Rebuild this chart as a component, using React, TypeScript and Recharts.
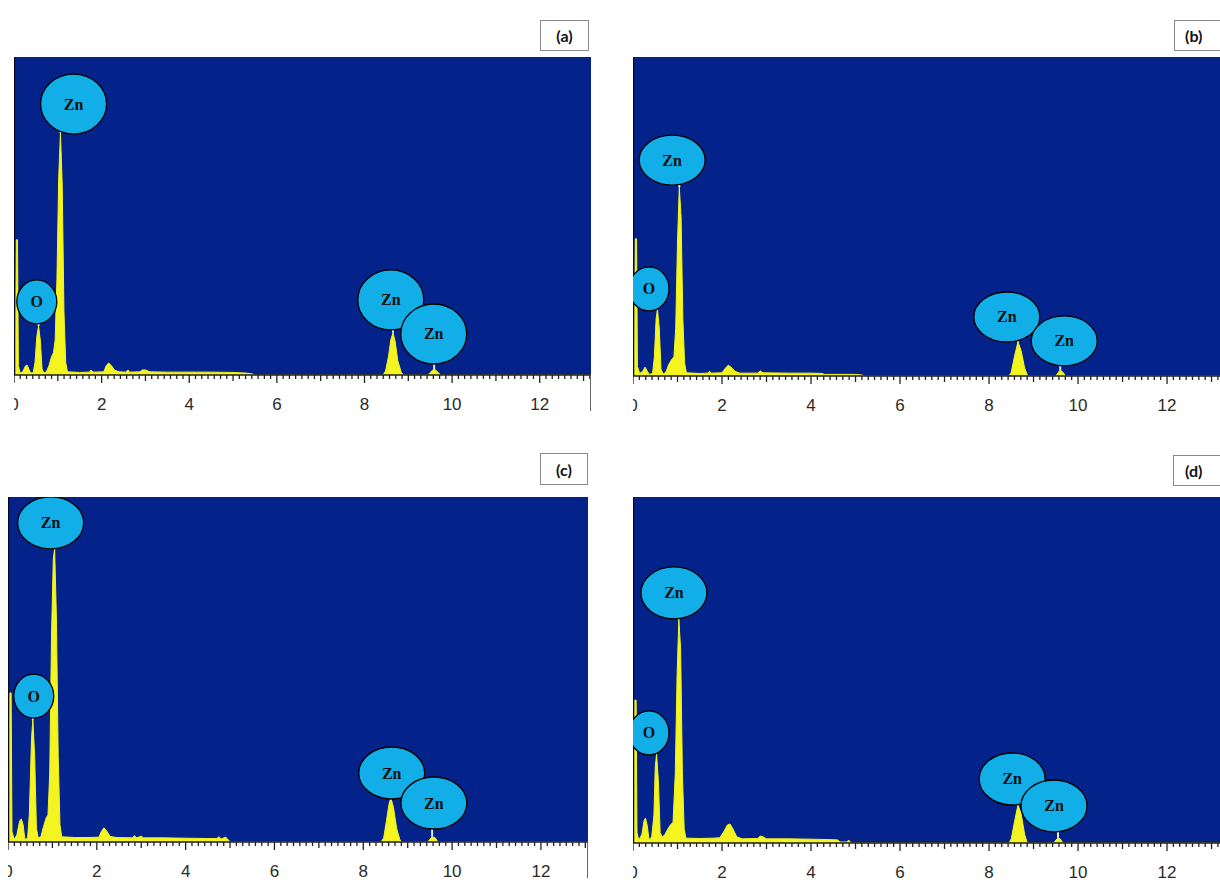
import {
  AreaChart,
  Area,
  XAxis,
  YAxis,
  CartesianGrid,
  ReferenceLine,
  ReferenceDot,
} from "recharts";

// EDS spectra, energy (keV) vs counts (scaled so each panel's full height = 1000)
const SPEC_A: [number, number][] = [
  [0, 0], [0.03, 0], [0.05, 425], [0.08, 425], [0.1, 30], [0.14, 6], [0.2, 10], [0.26, 28], [0.3, 31],
  [0.34, 18], [0.38, 6], [0.44, 8], [0.48, 40], [0.52, 120], [0.56, 154], [0.6, 110], [0.64, 20],
  [0.68, 6], [0.74, 10], [0.8, 30], [0.85, 55], [0.9, 70], [0.94, 110], [0.98, 300], [1.02, 620],
  [1.06, 761], [1.1, 600], [1.14, 200], [1.18, 40], [1.22, 10], [1.5, 8], [1.72, 9], [1.76, 16],
  [1.8, 9], [2.05, 10], [2.1, 28], [2.16, 38], [2.22, 30], [2.3, 15], [2.4, 10], [2.55, 9], [2.6, 16],
  [2.64, 9], [2.88, 10], [2.92, 16], [3.0, 16], [3.1, 10], [3.5, 9], [4.0, 9], [4.5, 9], [5.0, 8],
  [5.3, 6], [5.45, 3], [5.5, 0], [8.42, 0], [8.48, 12], [8.55, 60], [8.6, 110], [8.65, 133],
  [8.7, 105], [8.76, 45], [8.84, 8], [8.9, 0], [9.45, 0], [9.5, 8], [9.56, 16], [9.62, 16],
  [9.68, 8], [9.74, 0], [13.3, 0],
];
const SPEC_B: [number, number][] = [
  [0, 0], [0.03, 0], [0.05, 430], [0.08, 430], [0.1, 30], [0.15, 8], [0.22, 15], [0.27, 28],
  [0.32, 15], [0.37, 5], [0.44, 8], [0.48, 60], [0.52, 180], [0.55, 210], [0.59, 150], [0.63, 20],
  [0.68, 6], [0.74, 12], [0.8, 35], [0.86, 50], [0.92, 60], [0.96, 150], [1.0, 420], [1.04, 592],
  [1.08, 500], [1.12, 180], [1.16, 40], [1.2, 10], [1.5, 8], [1.68, 9], [1.72, 15], [1.76, 9],
  [2.0, 10], [2.08, 25], [2.14, 34], [2.2, 28], [2.3, 14], [2.4, 9], [2.8, 9], [2.86, 16],
  [2.92, 10], [3.5, 9], [4.0, 9], [4.25, 8], [4.3, 5], [5.0, 5], [5.15, 3], [5.2, 0], [8.45, 0],
  [8.5, 12], [8.57, 60], [8.65, 107], [8.72, 80], [8.8, 25], [8.87, 0], [9.5, 0], [9.55, 10],
  [9.6, 19], [9.66, 12], [9.72, 0], [13.3, 0],
];
const SPEC_C: [number, number][] = [
  [0, 0], [0.02, 0], [0.04, 432], [0.07, 432], [0.09, 30], [0.14, 8], [0.2, 20], [0.26, 60],
  [0.3, 67], [0.34, 50], [0.38, 8], [0.44, 10], [0.48, 80], [0.53, 300], [0.56, 354], [0.6, 250],
  [0.64, 40], [0.68, 12], [0.74, 15], [0.8, 45], [0.86, 70], [0.9, 78], [0.94, 200], [0.98, 600],
  [1.02, 820], [1.05, 849], [1.09, 650], [1.13, 250], [1.17, 50], [1.21, 15], [1.5, 13], [1.8, 13],
  [2.05, 14], [2.1, 30], [2.16, 41], [2.22, 32], [2.3, 16], [2.45, 13], [2.8, 12], [2.85, 18],
  [2.9, 12], [3.0, 17], [3.05, 12], [3.5, 12], [4.0, 11], [4.5, 10], [4.7, 10], [4.75, 15],
  [4.8, 9], [4.9, 14], [4.95, 8], [5.0, 0], [8.4, 0], [8.46, 12], [8.52, 60], [8.58, 110],
  [8.62, 128], [8.68, 100], [8.75, 40], [8.82, 8], [8.86, 0], [9.45, 0], [9.5, 8], [9.55, 15],
  [9.62, 12], [9.68, 0], [13.3, 0],
];
const SPEC_D: [number, number][] = [
  [0, 0], [0.02, 0], [0.04, 413], [0.07, 413], [0.09, 30], [0.13, 8], [0.2, 25], [0.25, 65],
  [0.28, 72], [0.32, 50], [0.36, 10], [0.42, 17], [0.47, 80], [0.5, 220], [0.53, 257], [0.57, 180],
  [0.61, 30], [0.66, 17], [0.72, 25], [0.78, 40], [0.84, 52], [0.9, 60], [0.95, 200], [0.99, 480],
  [1.03, 647], [1.07, 560], [1.11, 200], [1.15, 40], [1.19, 14], [1.5, 13], [1.8, 14], [1.95, 15],
  [2.05, 35], [2.12, 52], [2.18, 55], [2.25, 40], [2.33, 18], [2.45, 12], [2.8, 13], [2.86, 20],
  [2.92, 18], [3.0, 12], [3.5, 12], [4.0, 11], [4.4, 10], [4.6, 9], [4.65, 3], [4.8, 3], [4.85, 8],
  [4.9, 0], [8.45, 0], [8.5, 12], [8.57, 60], [8.65, 110], [8.72, 85], [8.8, 25], [8.86, 0],
  [9.45, 0], [9.5, 8], [9.55, 15], [9.6, 12], [9.66, 0], [13.3, 0],
];

// peak labels: element, bubble centre (e, c), peak it points at (pe, pc)
type Tag = { el: string; e: number; c: number; pe: number; pc: number };
const LABELS_A: Tag[] = [
  { el: "Zn", e: 1.36, c: 852, pe: 1.06, pc: 761 },
  { el: "O", e: 0.52, c: 230, pe: 0.56, pc: 154 },
  { el: "Zn", e: 8.6, c: 236, pe: 8.65, pc: 133 },
  { el: "Zn", e: 9.58, c: 129, pe: 9.59, pc: 16 },
];
const LABELS_B: Tag[] = [
  { el: "Zn", e: 0.88, c: 677, pe: 1.04, pc: 592 },
  { el: "O", e: 0.36, c: 273, pe: 0.55, pc: 210 },
  { el: "Zn", e: 8.4, c: 185, pe: 8.65, pc: 107 },
  { el: "Zn", e: 9.69, c: 110, pe: 9.6, pc: 19 },
];
const LABELS_C: Tag[] = [
  { el: "Zn", e: 0.96, c: 925, pe: 1.05, pc: 849 },
  { el: "O", e: 0.58, c: 423, pe: 0.56, pc: 354 },
  { el: "Zn", e: 8.64, c: 200, pe: 8.62, pc: 128 },
  { el: "Zn", e: 9.59, c: 113, pe: 9.55, pc: 15 },
];
const LABELS_D: Tag[] = [
  { el: "Zn", e: 0.92, c: 723, pe: 1.03, pc: 647 },
  { el: "O", e: 0.36, c: 318, pe: 0.53, pc: 257 },
  { el: "Zn", e: 8.52, c: 185, pe: 8.65, pc: 110 },
  { el: "Zn", e: 9.46, c: 107, pe: 9.55, pc: 15 },
];

const TICK_LABELS = [0, 2, 4, 6, 8, 10, 12];
const MINOR_PER_KEV = 7;

const BG = "#03228a";
const YELLOW = "#f4f420";
const BUBBLE = "#12aee8";

const bubble = (el: string, zr: [number, number]) => (p: any) => {
  const rx = el === "O" ? 20 : zr[0];
  const ry = el === "O" ? 22 : zr[1];
  return (
    <g>
      <ellipse cx={p.cx} cy={p.cy} rx={rx} ry={ry} fill={BUBBLE} stroke="#000" strokeWidth={1.3} />
      <text
        x={p.cx}
        y={p.cy + 5.5}
        textAnchor="middle"
        fontFamily="'Liberation Serif', 'DejaVu Serif', serif"
        fontWeight="bold"
        fontSize={16}
        fill="#111"
      >
        {el}
      </text>
    </g>
  );
};

const EnergyTick = ({ x, y, payload }: any) => {
  const v = payload.value as number;
  const isInt = Math.abs(v - Math.round(v)) < 1e-6;
  const len = isInt ? (Math.round(v) % 2 === 0 ? 8 : 6) : 4;
  const showLabel = isInt && TICK_LABELS.includes(Math.round(v));
  return (
    <g>
      <line x1={x} x2={x} y1={y} y2={y + len} stroke="#222" strokeWidth={1.3} />
      {showLabel && (
        <text
          x={x}
          y={y + 35}
          textAnchor="middle"
          fontFamily="'Liberation Sans', Arial, sans-serif"
          fontSize={17}
          fill="#2a2a2a"
        >
          {Math.round(v)}
        </text>
      )}
    </g>
  );
};

interface PanelProps {
  spec: [number, number][];
  labels: Tag[];
  left: number;
  top: number;
  width: number;
  plotH: number;
  xMax: number;
  zr: [number, number];
}

function Panel({ spec, labels, left, top, width, plotH, xMax, zr }: PanelProps) {
  const data = spec.map(([e, c]) => ({ e, c }));
  const ticks = Array.from({ length: Math.floor(xMax * MINOR_PER_KEV) + 1 }, (_, i) => i / MINOR_PER_KEV);
  return (
    <div style={{ position: "absolute", left, top }}>
      <AreaChart width={width} height={plotH + 45} data={data} margin={{ top: 0, right: 0, bottom: 0, left: 0 }}>
        <CartesianGrid fill={BG} stroke="none" horizontal={false} vertical={false} />
        <XAxis
          dataKey="e"
          type="number"
          domain={[0, xMax]}
          ticks={ticks}
          interval={0}
          allowDataOverflow
          height={45}
          tickSize={0}
          tickMargin={0}
          tickLine={false}
          axisLine={{ stroke: "#1c1c1c", strokeWidth: 1.5 }}
          tick={<EnergyTick />}
        />
        <YAxis hide domain={[0, 1000]} allowDataOverflow />
        <Area
          type="linear"
          dataKey="c"
          stroke={YELLOW}
          strokeWidth={1}
          fill={YELLOW}
          fillOpacity={1}
          dot={false}
          activeDot={false}
          isAnimationActive={false}
        />
        <ReferenceLine x={0} stroke="#0a0a28" strokeWidth={2.5} />
        {labels.map((l, i) => (
          <ReferenceLine
            key={"s" + i}
            segment={[{ x: l.pe, y: l.pc }, { x: l.pe, y: l.c }]}
            stroke="#e6e8f2"
            strokeWidth={2}
          />
        ))}
        {labels.map((l, i) => (
          <ReferenceDot key={"b" + i} x={l.e} y={l.c} ifOverflow="visible" shape={bubble(l.el, zr)} />
        ))}
      </AreaChart>
    </div>
  );
}

const tagStyle = (left: number, top: number, w: number, h: number): React.CSSProperties => ({
  position: "absolute",
  left,
  top,
  width: w,
  height: h,
  boxSizing: "border-box",
  border: "1px solid #8a8a8a",
  background: "#fff",
  display: "flex",
  alignItems: "center",
  justifyContent: "center",
  fontFamily: "Lato, 'Liberation Sans', sans-serif",
  fontWeight: 700,
  fontSize: 16,
  color: "#111",
});

export default function App() {
  return (
    <div
      style={{
        position: "absolute",
        left: 0,
        top: 0,
        width: 1220,
        height: 884,
        overflow: "hidden",
        background: "#fff",
      }}
    >
      <Panel spec={SPEC_A} labels={LABELS_A} left={14} top={57} width={577} plotH={318} xMax={13.17} zr={[33, 30]} />
      <Panel spec={SPEC_B} labels={LABELS_B} left={633} top={57} width={587} plotH={319} xMax={13.19} zr={[33, 25]} />
      <Panel spec={SPEC_C} labels={LABELS_C} left={8} top={497} width={580} plotH={345} xMax={13.06} zr={[33, 26]} />
      <Panel spec={SPEC_D} labels={LABELS_D} left={633} top={497} width={587} plotH={346} xMax={13.19} zr={[33, 26]} />

      <div style={{ position: "absolute", left: 590, top: 375, width: 1, height: 36, background: "#666" }} />
      <div style={{ position: "absolute", left: 587, top: 842, width: 1, height: 36, background: "#666" }} />

      <div style={tagStyle(540, 20, 49, 31)}>(a)</div>
      <div style={{ ...tagStyle(1174, 20, 56, 31), justifyContent: "flex-start", paddingLeft: 10 }}>(b)</div>
      <div style={tagStyle(540, 453, 48, 32)}>(c)</div>
      <div style={{ ...tagStyle(1173, 455, 56, 31), justifyContent: "flex-start", paddingLeft: 11 }}>(d)</div>
    </div>
  );
}
